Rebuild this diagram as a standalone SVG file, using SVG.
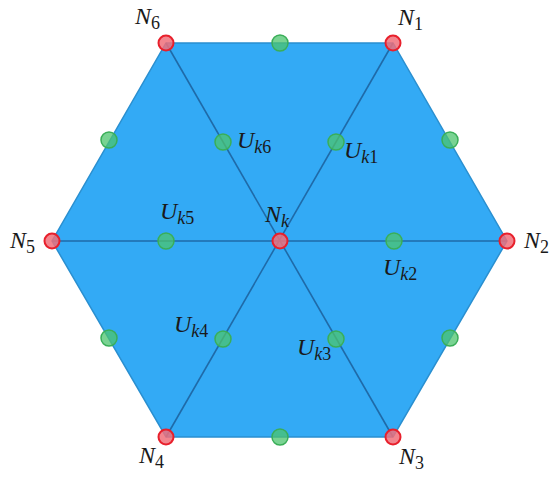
<svg xmlns="http://www.w3.org/2000/svg" width="552" height="477" viewBox="0 0 552 477">
<style>
.hex{fill:#33aaf5;stroke:#2a8fd0;stroke-width:1.5}
.sp{stroke:#1f6aa8;stroke-width:1.6;fill:none}
.r{fill:#f0707a;fill-opacity:0.85;stroke:#e8202c;stroke-width:2}
.g{fill:#4cc46e;fill-opacity:0.75;stroke:#3aae58;stroke-width:1.5}
text{font-family:"Liberation Serif","DejaVu Serif",serif;font-style:italic;font-size:24px;fill:#1a1a1a}
.s{font-size:18px}
.d{font-style:normal}
</style>
<rect width="552" height="477" fill="#fff"/>
<g id="hexagon"><polygon class="hex" points="166,43 393,43 507,241 393,437 166,437 52,241"/></g>
<g id="connectors">
<line class="sp" x1="166" y1="43" x2="393" y2="437"/>
<line class="sp" x1="393" y1="43" x2="166" y2="437"/>
<line class="sp" x1="52" y1="241" x2="507" y2="241"/>
</g>
<g id="N1"><circle class="r" cx="393" cy="43" r="7.5"/><text x="398" y="25">N<tspan class="s d" dy="5">1</tspan></text></g>
<g id="N2"><circle class="r" cx="507" cy="241" r="7.5"/><text x="524" y="248">N<tspan class="s d" dy="5">2</tspan></text></g>
<g id="N3"><circle class="r" cx="393" cy="437" r="7.5"/><text x="399" y="464">N<tspan class="s d" dy="5">3</tspan></text></g>
<g id="N4"><circle class="r" cx="166" cy="437" r="7.5"/><text x="139" y="463">N<tspan class="s d" dy="5">4</tspan></text></g>
<g id="N5"><circle class="r" cx="52" cy="241" r="7.5"/><text x="10" y="248">N<tspan class="s d" dy="5">5</tspan></text></g>
<g id="N6"><circle class="r" cx="166" cy="43" r="7.5"/><text x="135" y="24">N<tspan class="s d" dy="5">6</tspan></text></g>
<g id="Nk"><circle class="r" cx="280" cy="241" r="7.5"/><text x="265" y="222">N<tspan class="s" dy="5">k</tspan></text></g>
<g id="E61"><circle class="g" cx="280" cy="43" r="8"/></g>
<g id="E12"><circle class="g" cx="450" cy="140" r="8"/></g>
<g id="E23"><circle class="g" cx="450" cy="338" r="8"/></g>
<g id="E34"><circle class="g" cx="280" cy="437" r="8"/></g>
<g id="E45"><circle class="g" cx="109" cy="338" r="8"/></g>
<g id="E56"><circle class="g" cx="109" cy="140" r="8"/></g>
<g id="Uk6"><circle class="g" cx="223" cy="142" r="8"/><text x="237" y="148">U<tspan class="s" dy="5">k</tspan><tspan class="s d">6</tspan></text></g>
<g id="Uk1"><circle class="g" cx="336" cy="142" r="8"/><text x="344" y="158">U<tspan class="s" dy="5">k</tspan><tspan class="s d">1</tspan></text></g>
<g id="Uk2"><circle class="g" cx="394" cy="241" r="8"/><text x="383" y="275">U<tspan class="s" dy="5">k</tspan><tspan class="s d">2</tspan></text></g>
<g id="Uk3"><circle class="g" cx="336" cy="339" r="8"/><text x="297" y="355">U<tspan class="s" dy="5">k</tspan><tspan class="s d">3</tspan></text></g>
<g id="Uk4"><circle class="g" cx="223" cy="339" r="8"/><text x="174" y="332">U<tspan class="s" dy="5">k</tspan><tspan class="s d">4</tspan></text></g>
<g id="Uk5"><circle class="g" cx="166" cy="241" r="8"/><text x="160" y="219">U<tspan class="s" dy="5">k</tspan><tspan class="s d">5</tspan></text></g>
</svg>
